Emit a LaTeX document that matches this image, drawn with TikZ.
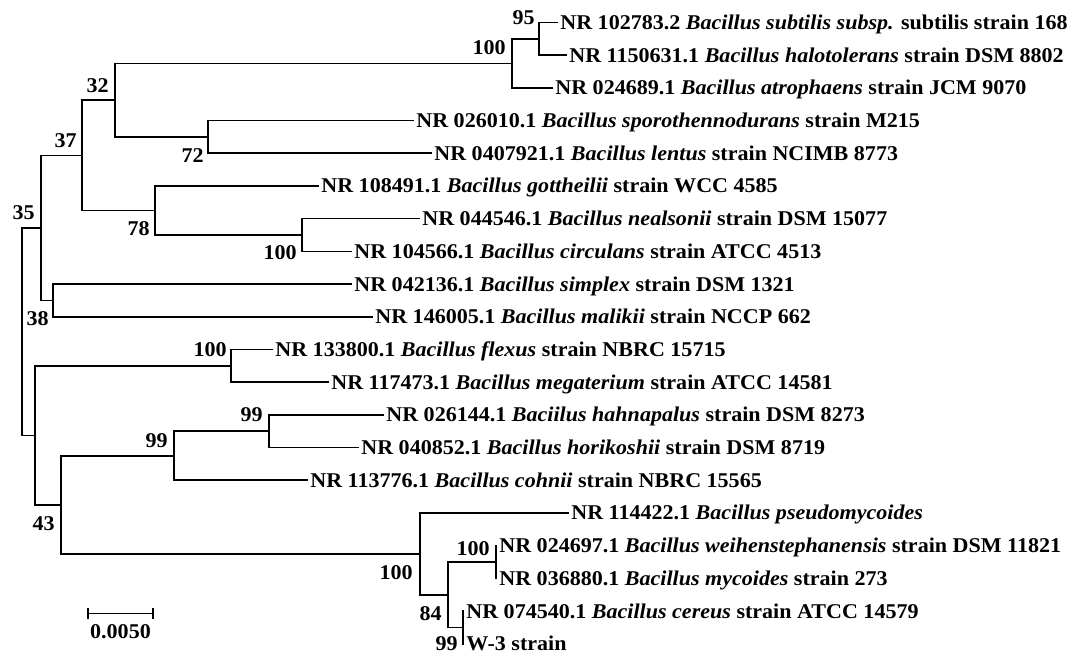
\documentclass[tikz,border=0pt]{standalone}
\usepackage{fontspec}
\setmainfont{Liberation Serif}[FakeStretch=1.05]
\usepackage{tikz}
\tikzset{
    branch/.style={line width=0.8pt, black, line cap=rect},
    % leaf labels sit to the right of the branch tips
    leaf/.style={anchor=west, inner xsep=1.5pt, inner ysep=0pt,
        text height=6.95pt, text depth=0pt, font=\fontsize{10.5}{12}\selectfont\bfseries},
    boot/.style={anchor=east, inner sep=0pt,
        text height=6.95pt, text depth=0pt, font=\fontsize{10.5}{12}\selectfont\bfseries}
}

\begin{document}
\begin{tikzpicture}[x=0.5pt,y=-0.5pt]
   \useasboundingbox (0,4.5) rectangle (1072,660.5);

   % inner nodes of the tree
   \coordinate (n95)   at (539,43.35);
   \coordinate (n100a) at (512,67.9);
   \coordinate (n72)   at (208,141.45);
   \coordinate (n32)   at (115,104.7);
   \coordinate (n100b) at (302,239.55);
   \coordinate (n78)   at (155,215.0);
   \coordinate (n37)   at (82,159.9);
   \coordinate (n38)   at (53,304.95);
   \coordinate (n35)   at (41,232.4);
   \coordinate (n100c) at (231,370.35);
   \coordinate (n99b)  at (269,435.75);
   \coordinate (n99a)  at (174,460.3);
   \coordinate (n100e) at (496,566.55);
   \coordinate (n99c)  at (463,631.95);
   \coordinate (n84)   at (448,599.25);
   \coordinate (n100d) at (420,558.4);
   \coordinate (n43)   at (61,509.35);
   \coordinate (nlow)  at (35,439.85);
   \coordinate (root)  at (22,336.1);

   % leaves
   \node[leaf] (subtilis)   at (557,27)    {NR 102783.2 \textit{Bacillus subtilis subsp.} subtilis strain 168};
   \node[leaf] (halotol)    at (566,59.7)  {NR 1150631.1 \textit{Bacillus halotolerans} strain DSM 8802};
   \node[leaf] (atrophaens) at (552,92.4)  {NR 024689.1 \textit{Bacillus atrophaens} strain JCM 9070};
   \node[leaf] (sporo)      at (413,125.1) {NR 026010.1 \textit{Bacillus sporothennodurans} strain M215};
   \node[leaf] (lentus)     at (431,157.8) {NR 0407921.1 \textit{Bacillus lentus} strain NCIMB 8773};
   \node[leaf] (gottheilii) at (318,190.5) {NR 108491.1 \textit{Bacillus gottheilii} strain WCC 4585};
   \node[leaf] (nealsonii)  at (419,223.2) {NR 044546.1 \textit{Bacillus nealsonii} strain DSM 15077};
   \node[leaf] (circulans)  at (351,255.9) {NR 104566.1 \textit{Bacillus circulans} strain ATCC 4513};
   \node[leaf] (simplex)    at (351,288.6) {NR 042136.1 \textit{Bacillus simplex} strain DSM 1321};
   \node[leaf] (malikii)    at (372,321.3) {NR 146005.1 \textit{Bacillus malikii} strain NCCP 662};
   \node[leaf] (flexus)     at (272,354)   {NR 133800.1 \textit{Bacillus flexus} strain NBRC 15715};
   \node[leaf] (megater)    at (328,386.7) {NR 117473.1 \textit{Bacillus megaterium} strain ATCC 14581};
   \node[leaf] (hahnapalus) at (383,419.4) {NR 026144.1 \textit{Baciilus hahnapalus} strain DSM 8273};
   \node[leaf] (horikoshii) at (358,452.1) {NR 040852.1 \textit{Bacillus horikoshii} strain DSM 8719};
   \node[leaf] (cohnii)     at (307,484.8) {NR 113776.1 \textit{Bacillus cohnii} strain NBRC 15565};
   \node[leaf] (pseudomyc)  at (568,517.5) {NR 114422.1 \textit{Bacillus pseudomycoides}};
   \node[leaf] (weihen)     at (496,550.2) {NR 024697.1 \textit{Bacillus weihenstephanensis} strain DSM 11821};
   \node[leaf] (mycoides)   at (496,582.9) {NR 036880.1 \textit{Bacillus mycoides} strain 273};
   \node[leaf] (cereus)     at (463,615.6) {NR 074540.1 \textit{Bacillus cereus} strain ATCC 14579};
   \node[leaf] (wthree)     at (463,648.3) {W-3 strain};

   % branches
   \draw[branch] (n95) |- (subtilis.west);
   \draw[branch] (n95) |- (halotol.west);
   \draw[branch] (n100a) |- (n95);
   \draw[branch] (n100a) |- (atrophaens.west);
   \draw[branch] (n72) |- (sporo.west);
   \draw[branch] (n72) |- (lentus.west);
   \draw[branch] (n32) |- (n100a);
   \draw[branch] (n32) |- (n72);
   \draw[branch] (n100b) |- (nealsonii.west);
   \draw[branch] (n100b) |- (circulans.west);
   \draw[branch] (n78) |- (gottheilii.west);
   \draw[branch] (n78) |- (n100b);
   \draw[branch] (n37) |- (n32);
   \draw[branch] (n37) |- (n78);
   \draw[branch] (n38) |- (simplex.west);
   \draw[branch] (n38) |- (malikii.west);
   \draw[branch] (n35) |- (n37);
   \draw[branch] (n35) |- (n38);
   \draw[branch] (n100c) |- (flexus.west);
   \draw[branch] (n100c) |- (megater.west);
   \draw[branch] (n99b) |- (hahnapalus.west);
   \draw[branch] (n99b) |- (horikoshii.west);
   \draw[branch] (n99a) |- (n99b);
   \draw[branch] (n99a) |- (cohnii.west);
   \draw[branch] (n100e) |- (weihen.west);
   \draw[branch] (n100e) |- (mycoides.west);
   \draw[branch] (n99c) |- (cereus.west);
   \draw[branch] (n99c) |- (wthree.west);
   \draw[branch] (n84) |- (n100e);
   \draw[branch] (n84) |- (n99c);
   \draw[branch] (n100d) |- (pseudomyc.west);
   \draw[branch] (n100d) |- (n84);
   \draw[branch] (n43) |- (n99a);
   \draw[branch] (n43) |- (n100d);
   \draw[branch] (nlow) |- (n100c);
   \draw[branch] (nlow) |- (n43);
   \draw[branch] (root) |- (n35);
   \draw[branch] (root) |- (nlow);

   % bootstrap values
   \node[boot] (b95)   at (535,22)  {95};
   \node[boot] (b100a) at (506,52)  {100};
   \node[boot] (b32)   at (109,90)  {32};
   \node[boot] (b72)   at (204,160) {72};
   \node[boot] (b37)   at (77,145)  {37};
   \node[boot] (b78)   at (150,233) {78};
   \node[boot] (b100b) at (297,257) {100};
   \node[boot] (b35)   at (35,217)  {35};
   \node[boot] (b38)   at (49,323)  {38};
   \node[boot] (b100c) at (227,354) {100};
   \node[boot] (b99b)  at (263,419) {99};
   \node[boot] (b99a)  at (168,445) {99};
   \node[boot] (b43)   at (55,528)  {43};
   \node[boot] (b100d) at (413,577) {100};
   \node[boot] (b100e) at (490,553) {100};
   \node[boot] (b84)   at (442,618) {84};
   \node[boot] (b99c)  at (458,648) {99};

   % scale bar
   \coordinate (sleft)  at (88,618);
   \coordinate (sright) at (153,618);
   \draw[branch] (sleft) -- (sright);
   \draw[branch] ([yshift=2.5pt]sleft) -- ([yshift=-2.5pt]sleft);
   \draw[branch] ([yshift=2.5pt]sright) -- ([yshift=-2.5pt]sright);
   \node[boot, anchor=center] (scale) at (120.5,636) {0.0050};
\end{tikzpicture}
\end{document}
